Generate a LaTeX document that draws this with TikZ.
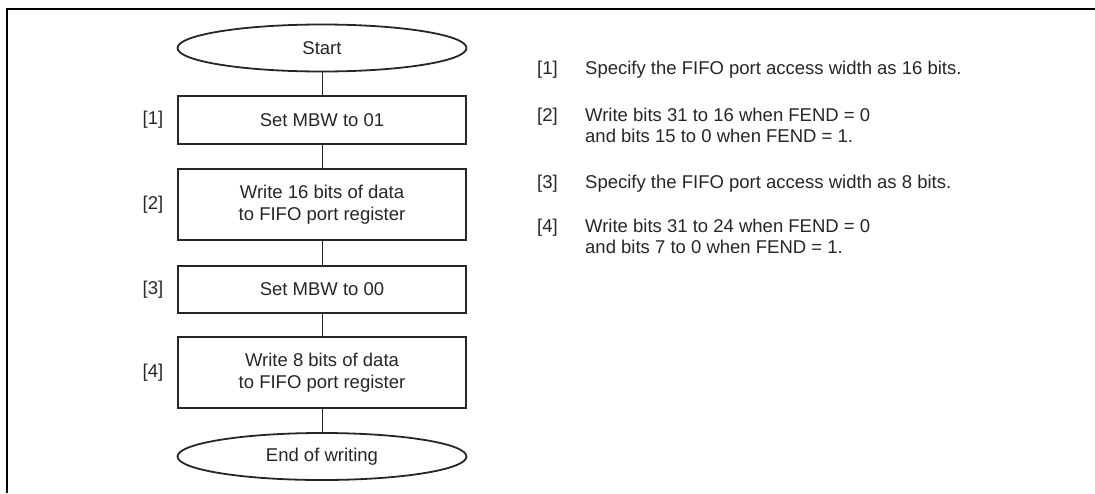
\documentclass[tikz,border=0pt]{standalone}
\usepackage{fontspec}
\setmainfont{Liberation Sans}
\usetikzlibrary{shapes.geometric}
\begin{document}
\begin{tikzpicture}[x=1pt,y=-1pt,
  every node/.style={font=\fontsize{18.5}{21.5}\selectfont, text=black!85},
  stepbox/.style={draw=black!85, line width=2pt, minimum width=288pt, align=center, inner sep=0pt},
  term/.style={draw=black!85, ellipse, line width=1.8pt, minimum width=289pt, minimum height=47pt, inner sep=0pt},
  conn/.style={draw=black!85, line width=0.9pt},
  lbl/.style={anchor=center},
  note/.style={anchor=base west, inner sep=0pt}]
\useasboundingbox (0,0) rectangle (1095,493);
\draw[line width=2.5pt] (7,493) -- (7,9) -- (1095,9);
\node[term] (start) at (322,48) {Start};
\node[stepbox, minimum height=48pt] (s1) at (322,120) {Set MBW to 01};
\node[stepbox, minimum height=71pt] (s2) at (322,204.5) {Write 16 bits of data\\to FIFO port register};
\node[stepbox, minimum height=47pt] (s3) at (322,289.5) {Set MBW to 00};
\node[stepbox, minimum height=71pt] (s4) at (322,372.5) {Write 8 bits of data\\to FIFO port register};
\node[term] (end) at (322,456.5) {End of writing};
\draw[conn] (start) -- (s1);
\draw[conn] (s1) -- (s2);
\draw[conn] (s2) -- (s3);
\draw[conn] (s3) -- (s4);
\draw[conn] (s4) -- (end);
\node[lbl] (l1) at (153,120) {[1]};
\node[lbl] (l2) at (153,204.5) {[2]};
\node[lbl] (l3) at (153,289.5) {[3]};
\node[lbl] (l4) at (153,372.5) {[4]};
\node[note] (n1) at (537,74.5) {[1]};
\node[note] (t1) at (585,74.5) {Specify the FIFO port access width as 16 bits.};
\node[note] (n2) at (537,121.5) {[2]};
\node[note] (t2a) at (585,121.5) {Write bits 31 to 16 when FEND = 0};
\node[note] (t2b) at (585,142.5) {and bits 15 to 0 when FEND = 1.};
\node[note] (n3) at (537,188.5) {[3]};
\node[note] (t3) at (585,188.5) {Specify the FIFO port access width as 8 bits.};
\node[note] (n4) at (537,232.5) {[4]};
\node[note] (t4a) at (585,232.5) {Write bits 31 to 24 when FEND = 0};
\node[note] (t4b) at (585,253.5) {and bits 7 to 0 when FEND = 1.};
\end{tikzpicture}
\end{document}
